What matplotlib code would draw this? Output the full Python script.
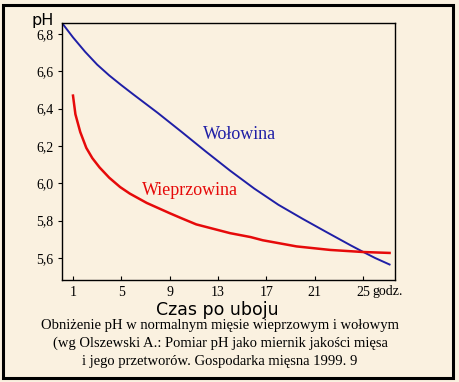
import matplotlib
matplotlib.use('Agg')
import matplotlib.pyplot as plt
from matplotlib.patches import Rectangle

# pH of meat after slaughter
beef_h = [0.2, 1, 2, 3, 4, 5, 6, 8, 10, 12, 14, 16, 18, 20, 22, 24, 25, 26, 27.2]
beef_ph = [6.85, 6.782, 6.705, 6.636, 6.578, 6.526, 6.476, 6.378, 6.275, 6.17,
           6.068, 5.972, 5.885, 5.81, 5.738, 5.667, 5.633, 5.60, 5.565]

pork_h = [1.0, 1.2, 1.6, 2.1, 2.6, 3.2, 4.0, 4.9, 5.7, 7.1, 9.0, 9.9, 11.2, 14.0, 15.7, 16.7, 19.5, 22.3, 25.0, 27.2]
pork_ph = [6.47, 6.37, 6.275, 6.19, 6.135, 6.085, 6.03, 5.98, 5.945, 5.895, 5.84, 5.815,
           5.78, 5.733, 5.712, 5.695, 5.662, 5.643, 5.632, 5.627]

x_ticks = [1, 5, 9, 13, 17, 21, 25]
y_ticks = [5.6, 5.8, 6.0, 6.2, 6.4, 6.6, 6.8]
y_labels = ['5,6', '5,8', '6,0', '6,2', '6,4', '6,6', '6,8']
caption = ['Obniżenie pH w normalnym mięsie wieprzowym i wołowym',
           '(wg Olszewski A.: Pomiar pH jako miernik jakości mięsa',
           'i jego przetworów. Gospodarka mięsna 1999. 9']

bg = '#faf1e0'
blue = '#1f1fa6'
red = '#e60a0a'
serif = 'Liberation Serif'

fig = plt.figure(figsize=(4.6, 3.82), dpi=100, facecolor=bg)
ax = fig.add_axes([62/460, 1-280/382, 333/460, 257/382])
ax.set_facecolor(bg)

ax.plot(beef_h, beef_ph, color=blue, lw=1.4)
ax.plot(pork_h, pork_ph, color=red, lw=1.8)

ax.set_xlim(0.09, 27.65)
ax.set_ylim(5.482, 6.859)

ax.set_xticks(x_ticks)
ax.set_xticklabels([str(t) for t in x_ticks], family=serif, fontsize=10)
ax.set_yticks(y_ticks)
ax.set_yticklabels(y_labels, family=serif, fontsize=10)
ax.tick_params(axis='x', direction='in', length=3, pad=4)
ax.tick_params(axis='y', direction='out', length=3, pad=3)
for s in ax.spines.values():
    s.set_linewidth(1.0)

ax.text(14.8, 6.259, 'Wołowina', color=blue, family=serif, fontsize=13,
        ha='center', va='center')
ax.text(10.7, 5.964, 'Wieprzowina', color=red, family=serif, fontsize=13,
        ha='center', va='center')

# unit after the last tick label
fig.text(372/460, 1-291/382, 'godz.', family=serif, fontsize=10, ha='left', va='center')
fig.text(43/460, 1-20/382, 'pH', fontsize=11.5, ha='center', va='center')
fig.text(217/460, 1-310/382, 'Czas po uboju', fontsize=12.5, ha='center', va='center')
for i, line in enumerate(caption):
    fig.text(220/460, 1-(325+18*i)/382, line, family=serif, fontsize=10.5,
             ha='center', va='center')

fig.patches.append(Rectangle((3.5/460, 1-377.5/382), 450/460, 373/382,
                             transform=fig.transFigure, fill=False,
                             edgecolor='black', lw=2.2))

fig.savefig('out.png', dpi=100, facecolor=bg)
